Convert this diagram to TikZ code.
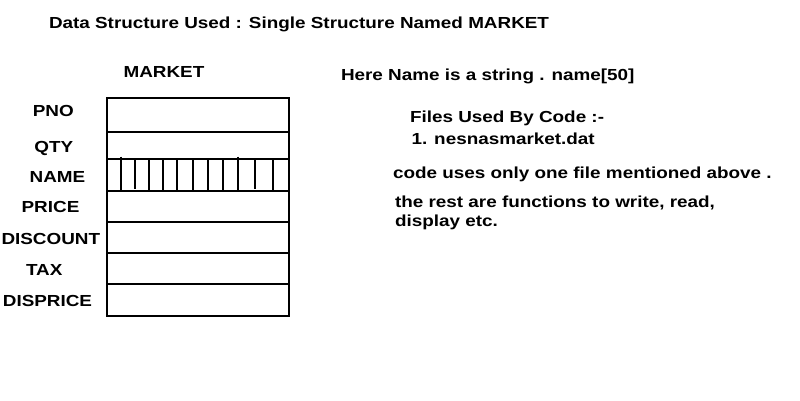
\documentclass[tikz,border=0pt]{standalone}
\usepackage{fontspec}
\setmainfont{Liberation Sans}
\begin{document}
\begin{tikzpicture}[x=1pt,y=-1pt]
	    \tikzset{txt/.style={font=\bfseries\fontsize{16}{18.5}\selectfont, xscale=1.18, inner sep=0pt, outer sep=0pt}}
	    \tikzset{cell/.style={draw, line width=2pt, minimum width=181.5pt, inner sep=0pt, outer sep=0pt, anchor=north west}}
	    \useasboundingbox (0,0) rectangle (800,400);
	    \node [txt, anchor=base west] (title) at (49,28) {Data Structure Used : Single Structure Named MARKET};
	    \node [txt, anchor=base] (market) at (164,77) {MARKET};
	    \node [cell, minimum height=33.5pt] (pnocell) at (107,98) {};
	    \node [cell, minimum height=27pt] (qtycell) at (107,131.5) {};
	    \node [cell, minimum height=32pt] (namecell) at (107,158.5) {};
	    \node [cell, minimum height=31.2pt] (pricecell) at (107,190.5) {};
	    \node [cell, minimum height=31pt] (discountcell) at (107,221.7) {};
	    \node [cell, minimum height=31.3pt] (taxcell) at (107,252.7) {};
	    \node [cell, minimum height=32pt] (dispricecell) at (107,284) {};
	    \foreach \x/\a/\b in {120.7/156.7/190.5, 135/158.5/189, 149/158.5/190.5, 163.3/158.5/190.5,
	        177.3/158.5/190.5, 192.7/158.5/190.5, 208.3/158.5/190.5, 222.7/158.5/190.5,
	        238.3/156.7/190.5, 254.7/158.5/189, 273.3/158.5/190.5}
	        \draw [line width=1.8pt] (\x,\a) -- (\x,\b);
	    \node [txt, anchor=base] (pno) at (53.3,116.5) {PNO};
	    \node [txt, anchor=base] (qty) at (53.8,152.5) {QTY};
	    \node [txt, anchor=base] (name) at (57.5,182) {NAME};
	    \node [txt, anchor=base] (price) at (50.5,212.6) {PRICE};
	    \node [txt, anchor=base] (discount) at (50.8,244) {DISCOUNT};
	    \node [txt, anchor=base] (tax) at (44.2,275.6) {TAX};
	    \node [txt, anchor=base] (disprice) at (47.5,306) {DISPRICE};
	    \node [txt, anchor=base west] (string) at (341,80) {Here Name is a string . name[50]};
	    \node [txt, anchor=base west] (files) at (410,122) {Files Used By Code :-};
	    \node [txt, anchor=base west] (datfile) at (411.5,144) {1. nesnasmarket.dat};
	    \node [txt, anchor=base west] (onefile) at (393,178) {code uses only one file mentioned above .};
	    \node [txt, anchor=north west, align=left] (rest) at (395,196.3) {the rest are functions to write, read,\\display etc.};
	\end{tikzpicture}
\end{document}
